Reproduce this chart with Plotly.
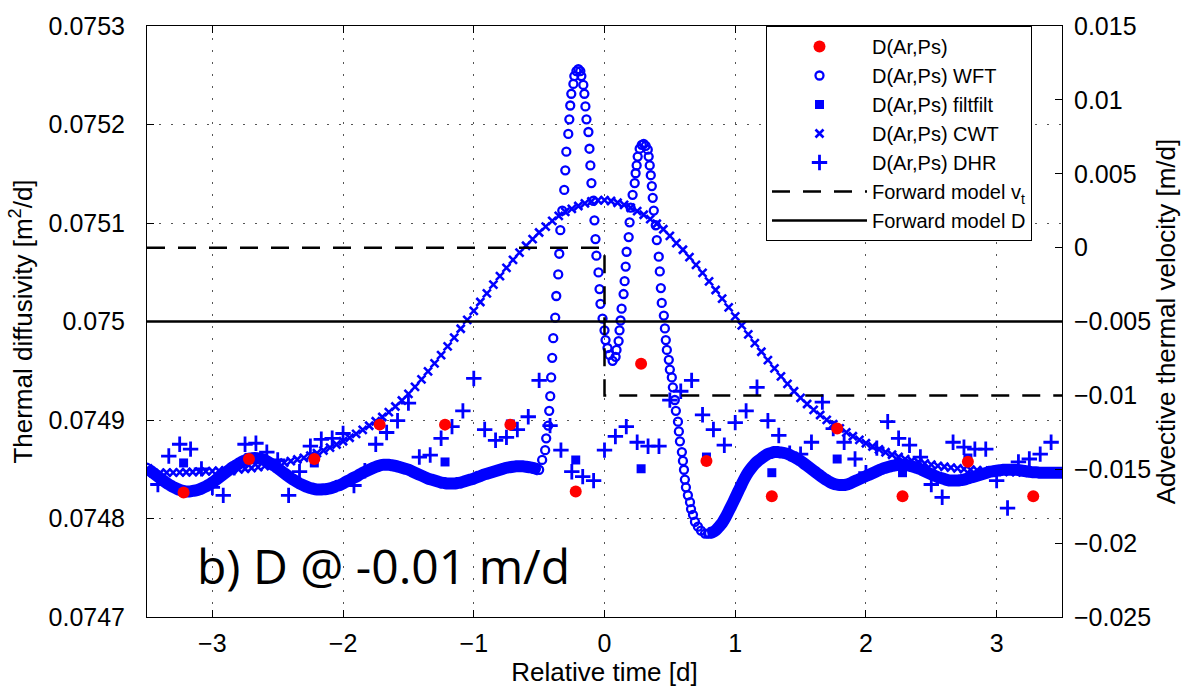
import numpy as np
import plotly.graph_objects as go

# ---------------- data ----------------
# D(Ar,Ps) (red dots) and D(Ar,Ps) filtfilt (blue squares), same times
t_arps = [-3.22, -2.72, -2.22, -1.72, -1.22, -0.72, -0.22, 0.28, 0.78, 1.28, 1.78, 2.28, 2.78, 3.28]
d_arps = [0.0748265, 0.0748604, 0.0748605, 0.0748953, 0.0748953, 0.0748953, 0.0748275,
          0.0749571, 0.0748584, 0.0748225, 0.0748913, 0.0748225, 0.0748575, 0.0748225]
d_filtfilt = [0.0748564, 0.0748620, 0.0748564, 0.0748960, 0.0748574, 0.0748960, 0.0748594,
              0.0748505, 0.0748624, 0.0748465, 0.0748604, 0.0748465, 0.0748614, 0.0748465]

# D(Ar,Ps) DHR, sampled every 2 h from -41/12 d to +41/12 d
dhr_t_start, dhr_t_end = -41 / 12, 41 / 12
d_dhr = [0.0748345, 0.0748634, 0.0748754, 0.0748704, 0.0748504, 0.0748315, 0.0748235, 0.0748514, 0.0748754, 0.0748764,
         0.0748674, 0.0748594, 0.0748235, 0.0748475, 0.0748734, 0.0748804, 0.0748814, 0.0748863, 0.0748335, 0.0748485,
         0.0748754, 0.0748873, 0.0748993, 0.0749172, 0.0748624, 0.0748644, 0.0748814, 0.0748933, 0.0749093, 0.0749422,
         0.0748903, 0.0748794, 0.0748824, 0.0748903, 0.0749033, 0.0749402, 0.0748943, 0.0748694, 0.0748475, 0.0748425,
         0.0748385, 0.0748694, 0.0748833, 0.0748933, 0.0748774, 0.0748734, 0.0748734, 0.0749202, 0.0749292, 0.0749402,
         0.0749053, 0.0748903, 0.0748744, 0.0748973, 0.0749093, 0.0749332, 0.0748993, 0.0748843, 0.0748664, 0.0748654,
         0.0748774, 0.0749182, 0.0748913, 0.0748774, 0.0748604, 0.0748465, 0.0748714, 0.0748983, 0.0748814, 0.0748744,
         0.0748624, 0.0748345, 0.0748215, 0.0748774, 0.0748724, 0.0748704, 0.0748704, 0.0748385, 0.0748106, 0.0748574,
         0.0748604, 0.0748654, 0.0748774]

# D(Ar,Ps) CWT, every 0.05 d from -3.5 to 3.5
cwt_t_start, cwt_t_end = -3.5, 3.5
d_cwt = [0.0748460, 0.0748460, 0.0748462, 0.0748465, 0.0748465, 0.0748468, 0.0748470, 0.0748472, 0.0748475, 0.0748478,
         0.0748481, 0.0748485, 0.0748489, 0.0748493, 0.0748499, 0.0748505, 0.0748513, 0.0748521, 0.0748532, 0.0748542,
         0.0748553, 0.0748567, 0.0748582, 0.0748599, 0.0748615, 0.0748638, 0.0748663, 0.0748690, 0.0748719, 0.0748751,
         0.0748784, 0.0748820, 0.0748859, 0.0748899, 0.0748942, 0.0748987, 0.0749030, 0.0749080, 0.0749137, 0.0749198,
         0.0749265, 0.0749337, 0.0749412, 0.0749493, 0.0749575, 0.0749659, 0.0749747, 0.0749836, 0.0749926, 0.0750017,
         0.0750108, 0.0750198, 0.0750286, 0.0750374, 0.0750461, 0.0750545, 0.0750625, 0.0750699, 0.0750769, 0.0750837,
         0.0750904, 0.0750963, 0.0751022, 0.0751072, 0.0751113, 0.0751144, 0.0751173, 0.0751199, 0.0751219, 0.0751229,
         0.0751233, 0.0751223, 0.0751206, 0.0751184, 0.0751155, 0.0751121, 0.0751084, 0.0751039, 0.0750992, 0.0750937,
         0.0750870, 0.0750795, 0.0750728, 0.0750653, 0.0750575, 0.0750494, 0.0750408, 0.0750320, 0.0750232, 0.0750143,
         0.0750052, 0.0749961, 0.0749870, 0.0749781, 0.0749693, 0.0749608, 0.0749524, 0.0749443, 0.0749366, 0.0749292,
         0.0749224, 0.0749162, 0.0749103, 0.0749051, 0.0749002, 0.0748957, 0.0748915, 0.0748874, 0.0748835, 0.0748799,
         0.0748764, 0.0748731, 0.0748701, 0.0748673, 0.0748647, 0.0748624, 0.0748603, 0.0748588, 0.0748574, 0.0748559,
         0.0748547, 0.0748535, 0.0748525, 0.0748517, 0.0748509, 0.0748501, 0.0748495, 0.0748491, 0.0748485, 0.0748482,
         0.0748479, 0.0748475, 0.0748473, 0.0748471, 0.0748469, 0.0748467, 0.0748465, 0.0748463, 0.0748461, 0.0748460,
         0.0748460]

# D(Ar,Ps) WFT: left part every 0.025 d from -3.5 to -0.5
wft_left_start, wft_left_end = -3.5, -0.5
d_wft_left = [0.0748515, 0.0748485, 0.0748460, 0.0748435, 0.0748410, 0.0748385, 0.0748360, 0.0748340, 0.0748320, 0.0748305,
              0.0748290, 0.0748280, 0.0748275, 0.0748275, 0.0748280, 0.0748285, 0.0748295, 0.0748310, 0.0748325, 0.0748345,
              0.0748365, 0.0748390, 0.0748415, 0.0748440, 0.0748465, 0.0748490, 0.0748515, 0.0748535, 0.0748555, 0.0748575,
              0.0748590, 0.0748605, 0.0748610, 0.0748615, 0.0748610, 0.0748605, 0.0748595, 0.0748575, 0.0748555, 0.0748535,
              0.0748510, 0.0748485, 0.0748460, 0.0748435, 0.0748410, 0.0748390, 0.0748370, 0.0748350, 0.0748335, 0.0748320,
              0.0748310, 0.0748300, 0.0748295, 0.0748295, 0.0748297, 0.0748300, 0.0748305, 0.0748315, 0.0748330, 0.0748340,
              0.0748355, 0.0748375, 0.0748390, 0.0748410, 0.0748425, 0.0748445, 0.0748465, 0.0748480, 0.0748495, 0.0748510,
              0.0748525, 0.0748535, 0.0748545, 0.0748545, 0.0748545, 0.0748540, 0.0748535, 0.0748525, 0.0748515, 0.0748505,
              0.0748495, 0.0748480, 0.0748465, 0.0748450, 0.0748435, 0.0748420, 0.0748405, 0.0748395, 0.0748385, 0.0748375,
              0.0748365, 0.0748360, 0.0748355, 0.0748355, 0.0748355, 0.0748360, 0.0748365, 0.0748375, 0.0748385, 0.0748395,
              0.0748405, 0.0748420, 0.0748430, 0.0748445, 0.0748455, 0.0748465, 0.0748475, 0.0748485, 0.0748495, 0.0748505,
              0.0748515, 0.0748520, 0.0748525, 0.0748530, 0.0748530, 0.0748530, 0.0748525, 0.0748520, 0.0748515, 0.0748505,
              0.0748495]
# WFT: individual circles around the two peaks
t_wft_peak = [-0.477, -0.454, -0.446, -0.431, -0.423, -0.415, -0.408, -0.400, -0.392, -0.377,
              -0.369, -0.354, -0.346, -0.338, -0.323, -0.308, -0.300, -0.292, -0.277, -0.269,
              -0.262, -0.254, -0.238, -0.231, -0.215, -0.200, -0.185, -0.177, -0.162, -0.154,
              -0.146, -0.138, -0.123, -0.115, -0.108, -0.100, -0.085, -0.077, -0.069, -0.062,
              -0.046, -0.038, -0.031, -0.015, 0.000, 0.008, 0.023, 0.038, 0.062, 0.085,
              0.092, 0.108, 0.115, 0.123, 0.131, 0.146, 0.154, 0.162, 0.169, 0.185,
              0.192, 0.200, 0.215, 0.231, 0.238, 0.246, 0.254, 0.269, 0.285, 0.300,
              0.315, 0.331, 0.338, 0.346, 0.354, 0.362, 0.369, 0.377, 0.392, 0.400,
              0.415, 0.423, 0.431, 0.438, 0.454, 0.462, 0.469, 0.477, 0.492, 0.500,
              0.515, 0.523, 0.538, 0.546, 0.562, 0.569, 0.577, 0.592, 0.600, 0.608,
              0.615, 0.623, 0.638, 0.654, 0.662, 0.677, 0.692, 0.715, 0.738, 0.769,
              0.792]
d_wft_peak = [0.0748595, 0.0748694, 0.0748814, 0.0748943, 0.0749093, 0.0749242, 0.0749432, 0.0749631, 0.0749831, 0.0750040,
              0.0750259, 0.0750478, 0.0750688, 0.0750927, 0.0751126, 0.0751336, 0.0751535, 0.0751724, 0.0751904, 0.0752053,
              0.0752193, 0.0752312, 0.0752412, 0.0752492, 0.0752542, 0.0752562, 0.0752542, 0.0752492, 0.0752402, 0.0752312,
              0.0752183, 0.0752053, 0.0751924, 0.0751754, 0.0751585, 0.0751405, 0.0751226, 0.0751027, 0.0750837, 0.0750668,
              0.0750498, 0.0750329, 0.0750179, 0.0750030, 0.0749910, 0.0749811, 0.0749731, 0.0749661, 0.0749601, 0.0749641,
              0.0749711, 0.0749801, 0.0749910, 0.0750010, 0.0750130, 0.0750279, 0.0750409, 0.0750558, 0.0750708, 0.0750857,
              0.0751007, 0.0751156, 0.0751286, 0.0751405, 0.0751505, 0.0751585, 0.0751674, 0.0751754, 0.0751794, 0.0751804,
              0.0751784, 0.0751744, 0.0751674, 0.0751585, 0.0751485, 0.0751375, 0.0751256, 0.0751126, 0.0750977, 0.0750827,
              0.0750658, 0.0750508, 0.0750339, 0.0750189, 0.0750060, 0.0749930, 0.0749811, 0.0749711, 0.0749611, 0.0749512,
              0.0749432, 0.0749332, 0.0749203, 0.0749093, 0.0748983, 0.0748884, 0.0748784, 0.0748674, 0.0748585, 0.0748495,
              0.0748395, 0.0748316, 0.0748236, 0.0748166, 0.0748096, 0.0748037, 0.0747967, 0.0747917, 0.0747877, 0.0747847,
              0.0747847]
# WFT: right part every 0.025 d from 0.8 to 3.5
wft_right_start, wft_right_end = 0.8, 3.5
d_wft_right = [0.0747850, 0.0747860, 0.0747880, 0.0747915, 0.0747955, 0.0748010, 0.0748075, 0.0748140, 0.0748210, 0.0748280,
               0.0748350, 0.0748415, 0.0748470, 0.0748515, 0.0748555, 0.0748585, 0.0748610, 0.0748635, 0.0748655, 0.0748665,
               0.0748675,
               0.0748675, 0.0748670, 0.0748665, 0.0748655, 0.0748640, 0.0748625, 0.0748605, 0.0748585, 0.0748560, 0.0748535,
               0.0748510, 0.0748485, 0.0748460, 0.0748435, 0.0748410, 0.0748390, 0.0748370, 0.0748355, 0.0748345, 0.0748340,
               0.0748340, 0.0748345, 0.0748355, 0.0748370, 0.0748385, 0.0748400, 0.0748415, 0.0748430, 0.0748445, 0.0748460,
               0.0748475, 0.0748490, 0.0748505, 0.0748515, 0.0748525, 0.0748535, 0.0748540, 0.0748545, 0.0748545, 0.0748545,
               0.0748540, 0.0748530, 0.0748520, 0.0748510, 0.0748495, 0.0748480, 0.0748465, 0.0748450, 0.0748435, 0.0748420,
               0.0748410, 0.0748400, 0.0748390, 0.0748385, 0.0748385, 0.0748385, 0.0748390, 0.0748395, 0.0748405, 0.0748415,
               0.0748425, 0.0748435, 0.0748445, 0.0748455, 0.0748465, 0.0748475, 0.0748480, 0.0748485, 0.0748490, 0.0748495,
               0.0748495, 0.0748495, 0.0748495, 0.0748495, 0.0748490, 0.0748485, 0.0748480, 0.0748475, 0.0748470, 0.0748470,
               0.0748465, 0.0748465, 0.0748465, 0.0748465, 0.0748465, 0.0748465, 0.0748465, 0.0748465]

# forward models
t_vt = [-3.5, 0.0, 0.0, 3.5]
v_vt = [0.0, 0.0, -0.01, -0.01]
t_fd = [-3.5, 3.5]
d_fd = [0.075, 0.075]

# axis ticks
x_ticks = [-3, -2, -1, 0, 1, 2, 3]
x_ticktext = ["\u22123", "\u22122", "\u22121", "0", "1", "2", "3"]
yl_ticks = [0.0747, 0.0748, 0.0749, 0.075, 0.0751, 0.0752, 0.0753]
yl_ticktext = ["0.0747", "0.0748", "0.0749", "0.075", "0.0751", "0.0752", "0.0753"]
yr_ticks = [-0.025, -0.02, -0.015, -0.01, -0.005, 0, 0.005, 0.01, 0.015]
yr_ticktext = ["\u22120.025", "\u22120.02", "\u22120.015", "\u22120.01", "\u22120.005", "0", "0.005", "0.01", "0.015"]

# ---------------- figure ----------------
t_dhr = np.linspace(dhr_t_start, dhr_t_end, len(d_dhr))
t_cwt = np.linspace(cwt_t_start, cwt_t_end, len(d_cwt))
t_wft_left = np.linspace(wft_left_start, wft_left_end, len(d_wft_left))
t_wft_right = np.linspace(wft_right_start, wft_right_end, len(d_wft_right))
t_wft = np.concatenate([t_wft_left, np.array(t_wft_peak), t_wft_right])
d_wft = np.concatenate([d_wft_left, d_wft_peak, d_wft_right])

BLUE = "#0000ff"
FONT = "Liberation Sans, Arial, sans-serif"
TICK_SIZE = 25
TITLE_SIZE = 26

fig = go.Figure()
# densely overlapping WFT circles in the slowly varying parts merge into a solid band
for tt, dd in ((t_wft_left, d_wft_left), (t_wft_right, d_wft_right)):
    fig.add_trace(go.Scatter(x=tt, y=dd, mode="lines", showlegend=False, hoverinfo="skip",
                             line=dict(color=BLUE, width=12, shape="spline")))
fig.add_trace(go.Scatter(x=t_wft, y=d_wft, mode="markers", name="D(Ar,Ps) WFT", legendrank=2,
                         marker=dict(symbol="circle-open", size=8, color=BLUE, line=dict(width=2.3, color=BLUE))))
fig.add_trace(go.Scatter(x=t_cwt, y=d_cwt, mode="markers", name="D(Ar,Ps) CWT", legendrank=4,
                         marker=dict(symbol="x-thin-open", size=8, color=BLUE, line=dict(width=2.6, color=BLUE))))
fig.add_trace(go.Scatter(x=t_arps, y=d_filtfilt, mode="markers", name="D(Ar,Ps) filtfilt", legendrank=3,
                         marker=dict(symbol="square", size=9, color=BLUE)))
fig.add_trace(go.Scatter(x=t_dhr, y=d_dhr, mode="markers", name="D(Ar,Ps) DHR", legendrank=5,
                         marker=dict(symbol="cross-thin-open", size=11, color=BLUE, line=dict(width=2.8, color=BLUE))))
fig.add_trace(go.Scatter(x=t_fd, y=d_fd, mode="lines", name="Forward model D", legendrank=7,
                         line=dict(color="black", width=2.5)))
fig.add_trace(go.Scatter(x=t_arps, y=d_arps, mode="markers", name="D(Ar,Ps)", legendrank=1,
                         marker=dict(symbol="circle", size=12, color="#ff0000")))
fig.add_trace(go.Scatter(x=t_vt, y=v_vt, mode="lines", name="Forward model v<sub>t</sub>", legendrank=6,
                         yaxis="y2", line=dict(color="black", width=2.5, dash="18px,13px")))

axis_common = dict(showline=True, linecolor="black", linewidth=1, ticks="inside", ticklen=7,
                   tickcolor="black", tickwidth=1, zeroline=False,
                   tickfont=dict(family=FONT, size=TICK_SIZE, color="black"))
grid = dict(showgrid=True, gridcolor="#555555", gridwidth=1, griddash="2px,10px")

fig.update_layout(
    width=1188, height=691,
    margin=dict(l=147, r=126, t=15, b=74),
    paper_bgcolor="white", plot_bgcolor="white",
    font=dict(family=FONT, color="black"),
    showlegend=True,
    legend=dict(x=0.6765, y=1.0, xanchor="left", yanchor="top",
                bgcolor="white", bordercolor="black", borderwidth=1, itemwidth=95,
                font=dict(family=FONT, size=20, color="black"), tracegroupgap=0),
    xaxis=dict(range=[-3.5, 3.5], tickvals=x_ticks, ticktext=x_ticktext, mirror="ticks",
               ticklabelstandoff=4,
               title=dict(text="Relative time [d]", font=dict(family=FONT, size=TITLE_SIZE), standoff=4),
               **axis_common, **grid),
    yaxis=dict(range=[0.0747, 0.0753], tickvals=yl_ticks, ticktext=yl_ticktext,
               ticklabelstandoff=16,
               title=dict(text="Thermal diffusivity [m<sup>2</sup>/d]", font=dict(family=FONT, size=TITLE_SIZE), standoff=8),
               **axis_common, **grid),
    yaxis2=dict(range=[-0.025, 0.015], tickvals=yr_ticks, ticktext=yr_ticktext, overlaying="y", side="right",
                showgrid=False, ticklabelstandoff=6,
                title=dict(text="Advective thermal velocity [m/d]", font=dict(family=FONT, size=TITLE_SIZE), standoff=4),
                **axis_common),
    annotations=[dict(x=-3.135, y=0.0747525, xref="x", yref="y", xanchor="left", yanchor="middle",
                      text="b) D @ -0.01 m/d", showarrow=False,
                      font=dict(family="Open Sans", size=48, color="black"))],
)

fig.write_html("out.html")
